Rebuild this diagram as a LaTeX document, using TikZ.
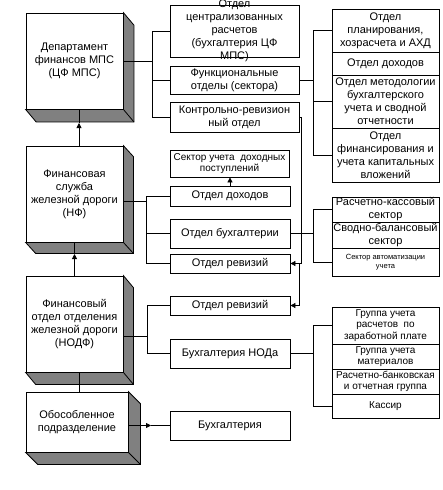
\documentclass[tikz,border=0pt]{standalone}
\usepackage{fontspec}
\setmainfont{Liberation Sans}
\usetikzlibrary{arrows.meta,calc}
\definecolor{shade}{HTML}{808080}
\tikzset{
 box/.style={draw, line width=0.8pt, inner sep=0pt, fill=white},
 txt/.style={inner sep=0pt, align=center, font=\fontsize{11}{13}\selectfont},
 small/.style={font=\fontsize{10}{11.5}\selectfont},
 mid/.style={font=\fontsize{10}{10.5}\selectfont},
 tiny/.style={font=\fontsize{7.5}{8.5}\selectfont},
 link/.style={line width=0.8pt},
 arr/.style={line width=0.8pt, -{Triangle[length=5pt,width=5pt]}},
 shadowpoly/.style={fill=shade, draw=black, line width=0.8pt, line join=miter},
}
\newcommand\bx[7]{\node[box, minimum width=#4, minimum height=#5] (#1) at (#2,#3) {}; \node[txt,#6] (#1-t) at (#1) {#7};}
\newcommand\boxshadow[3]{%
 \filldraw[shadowpoly] (#1.north east) -- ++(#2,#3) -- ($(#1.south east)+(#2,#3)$) -- ($(#1.south west)+(#2,#3)$) -- (#1.south west) -- (#1.south east) -- cycle;
 \draw[link] (#1.south east) -- ++(#2,#3);}
\begin{document}
\begin{tikzpicture}[x=1pt,y=-1pt]
\useasboundingbox (0,0) rectangle (443,490);
% left column
\bx{dep}{74.5}{61}{97}{96}{}{Департамент\\финансов МПС\\(ЦФ МПС)}
\bx{nf}{74.5}{194}{97}{96}{}{Финансовая\\служба\\железной дороги\\(НФ)}
\bx{nodf}{74.5}{324}{97}{96}{}{Финансовый\\отдел отделения\\железной дороги\\(НОДФ)}
\bx{obos}{77}{422}{102}{60}{}{Обособленное\\подразделение}
\boxshadow{dep}{10.5}{12.5}
\boxshadow{nf}{10}{11}
\boxshadow{nodf}{10}{12}
\boxshadow{obos}{12}{12}
% middle column
\bx{c1}{234.5}{31}{129}{52}{}{Отдел\\централизованных\\расчетов\\(бухгалтерия ЦФ\\МПС)}
\bx{c2}{234.5}{80}{129}{28}{}{Функциональные\\отделы (сектора)}
\bx{c3}{234.5}{117}{129}{30}{}{Контрольно-ревизион\\ный отдел}
\bx{c4}{229.5}{163.5}{119}{27}{mid}{Сектор учета \ доходных\\поступлений}
\bx{c5}{230}{196}{120}{20}{}{Отдел доходов}
\bx{c6}{230}{233.5}{120}{29}{}{Отдел бухгалтерии}
\bx{c7}{230}{263.5}{120}{19}{}{Отдел ревизий}
\bx{c8}{230}{305.5}{120}{19}{}{Отдел ревизий}
\bx{c9}{230}{353.5}{120}{29}{}{Бухгалтерия НОДа}
\bx{c10}{230}{425.5}{120}{29}{}{Бухгалтерия}
% right groups
\bx{r1}{385.5}{30.5}{107}{43}{}{Отдел\\планирования,\\хозрасчета и АХД}
\bx{r2}{385.5}{63.5}{107}{23}{}{Отдел доходов}
\bx{r3}{385.5}{101.5}{107}{53}{}{Отдел методологии\\бухгалтерского\\учета и сводной\\отчетности}
\bx{r4}{385.5}{155}{107}{54}{}{Отдел\\финансирования и\\учета капитальных\\вложений}
\bx{s1}{385.5}{209.5}{107}{25}{}{Расчетно-кассовый\\сектор}
\bx{s2}{385.5}{235}{107}{26}{}{Сводно-балансовый\\сектор}
\bx{s3}{385.5}{262}{107}{28}{tiny}{Сектор автоматизации\\учета}
\bx{g1}{385.5}{325.5}{107}{37}{small}{Группа учета\\расчетов \ по\\заработной плате}
\bx{g2}{385.5}{356.5}{107}{25}{small}{Группа учета\\материалов}
\bx{g3}{385.5}{381.5}{107}{25}{small}{Расчетно-банковская\\и отчетная группа}
\bx{g4}{385.5}{406}{107}{24}{small}{Кассир}
% bracket coordinates
\coordinate (b1) at (152,0);
\coordinate (b2) at (146,0);
\coordinate (b3) at (147,0);
\coordinate (k1) at (313,0);
\coordinate (v1) at (301,0);
\coordinate (v2) at (299,0);
\coordinate (a1) at (79,123);
\coordinate (a2) at (74.5,254);
\coordinate (a3) at (151,425.5);
% vertical chain
\draw[arr] ([xshift=4.5pt]nf.north) -- (a1);
\draw[link] (a1) -- (a1 |- dep.south);
\draw[arr] (nodf.north) -- (a2);
\draw[link] (a2) -- (nf.south);
\draw[link] ([xshift=4.5pt]nodf.south) -- ([xshift=2pt]obos.north);
\draw[arr] (obos.east |- c10.west) -- (a3);
\draw[link] (a3) -- (c10.west);
% dep bracket
\draw[link] (dep.east) -- (dep.east -| b1);
\draw[link] (c1.west) -- (c1.west -| b1) -- (c3.west -| b1) -- (c3.west);
\draw[link] (c2.west) -- (c2.west -| b1);
% functional -> group 1
\draw[link] (c2.east) -- (c2.east -| k1);
\draw[link] (r1.west) -- (r1.west -| k1) -- (r4.west -| k1) -- (r4.west);
\draw[link] (r3.west) -- (r3.west -| k1);
% control-revision arrows
\draw[arr] (c3.east) -- (c3.east -| v1) -- (c7.east -| v1) -- (c7.east);
\draw[arr] (c7.east -| v2) -- (c8.east -| v2) -- (c8.east);
\draw[arr] (c5.north) -- (c5.north |- c4.south);
% NF bracket
\draw[link] ([yshift=-7pt]nf.east) -- ([yshift=-7pt]nf.east -| b2);
\draw[link] (c5.west) -- (c5.west -| b2) -- (c7.west -| b2) -- (c7.west);
\draw[link] (c6.west) -- (c6.west -| b2);
% accounting -> group 2
\draw[link] (c6.east) -- (c6.east -| k1);
\draw[link] (s1.west) -- (s1.west -| k1) -- (s3.west -| k1) -- (s3.west);
% NODF bracket
\draw[link] ([yshift=-12pt]nodf.east) -- ([yshift=-12pt]nodf.east -| b3);
\draw[link] (c8.west) -- (c8.west -| b3) -- (c9.west -| b3) -- (c9.west);
% NODa -> group 3
\draw[link] (c9.east) -- (c9.east -| k1);
\draw[link] (g1.west) -- (g1.west -| k1) -- (g4.west -| k1) -- (g4.west);
\end{tikzpicture}
\end{document}
